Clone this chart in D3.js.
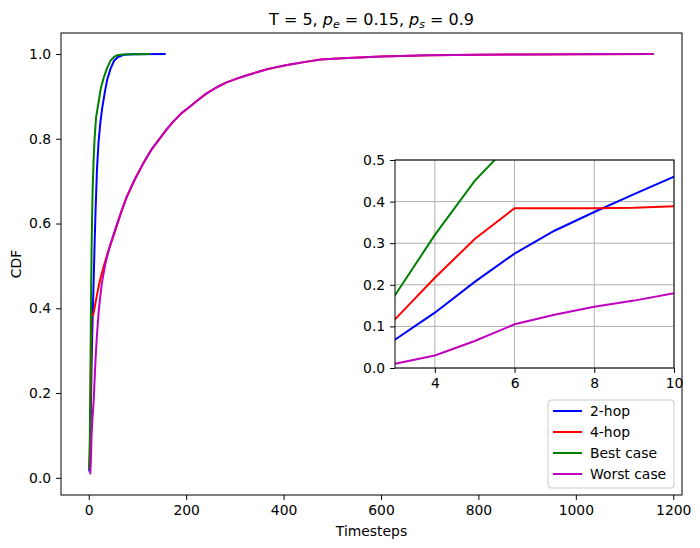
<!DOCTYPE html>
<html>
<head>
<meta charset="utf-8">
<script src="https://cdn.jsdelivr.net/npm/d3@7"></script>
<style>
  body { margin: 0; background: #fff; }
  text { font-family: "DejaVu Sans", sans-serif; fill: #000; }
</style>
</head>
<body>
<div id="chart"></div>
<script>
// series: [timestep, cdf]
const twoHop = [[1,0.015],[2,0.035],[3,0.068],[4,0.133],[5,0.207],[6,0.275],[7,0.330],[8,0.375],[9,0.418],[10,0.460],
  [12,0.55],[14,0.63],[17,0.73],[20,0.79],[24,0.84],[28,0.875],[33,0.91],[38,0.94],[45,0.966],[52,0.984],[60,0.993],[72,0.998],[90,0.9995],[158,1.0]]

const fourHop = [[1,0.02],[2,0.05],[3,0.117],[4,0.217],[5,0.310],[6,0.384],[7,0.384],[8,0.384],[9,0.385],[10,0.389],
  [15,0.42],[20,0.45],[25,0.475],[31,0.50],[40,0.535],[50,0.568],[58,0.596],[66,0.625],[78,0.663],[95,0.705],[112,0.742],[128,0.773],
  [146,0.801],[160,0.822],[174,0.841],[190,0.860],[208,0.876],[225,0.892],[242,0.907],[262,0.921],[283,0.933],[304,0.942],[325,0.950],
  [345,0.957],[366,0.964],[386,0.969],[407,0.974],[448,0.982],[476,0.987],[520,0.990],[600,0.994],[700,0.997],[800,0.998],[900,0.999],[1000,0.9995],[1160,1.0]]

const bestCase = [[1,0.02],[2,0.07],[3,0.175],[4,0.32],[5,0.45],[6,0.55],[7,0.62],[8,0.68],[10,0.75],[12,0.80],[15,0.85],
  [20,0.885],[25,0.92],[31,0.945],[38,0.968],[45,0.985],[52,0.993],[58,0.997],[70,0.999],[127,1.0]]

const worstCase = [[2,0.009],[3,0.010],[4,0.030],[5,0.065],[6,0.105],[7,0.128],[8,0.147],[9,0.162],[10,0.180],
  [12,0.23],[14,0.28],[17,0.34],[21,0.40],[27,0.46],[35,0.51],[45,0.553],[56,0.592],[66,0.625],[78,0.663],[95,0.705],[112,0.742],[128,0.773],
  [146,0.801],[160,0.822],[174,0.841],[190,0.860],[208,0.876],[225,0.892],[242,0.907],[262,0.921],[283,0.933],[304,0.942],[325,0.950],
  [345,0.957],[366,0.964],[386,0.969],[407,0.974],[448,0.982],[476,0.987],[520,0.990],[600,0.994],[700,0.997],[800,0.998],[900,0.999],[1000,0.9995],[1160,1.0]]

const seriesNames = ['2-hop', '4-hop', 'Best case', 'Worst case']
const seriesColors = ['#0000ff', '#ff0000', '#008000', '#bf00bf']
const seriesData = [twoHop, fourHop, bestCase, worstCase]

const xTicks = [0, 200, 400, 600, 800, 1000, 1200]
const yTicks = [0.0, 0.2, 0.4, 0.6, 0.8, 1.0]
const insetXTicks = [4, 6, 8, 10]
const insetYTicks = [0.0, 0.1, 0.2, 0.3, 0.4, 0.5]

const width = 700, height = 548
const m = {left: 61, right: 682, top: 33, bottom: 495}
const fs = 13.9

const svg = d3.select('#chart').append('svg')
  .attr('width', width)
  .attr('height', height)

// matplotlib-style 5% margins
const allX = seriesData.flat().map(d => d[0])
const allY = seriesData.flat().map(d => d[1])
const xMin = d3.min(allX), xMax = d3.max(allX)
const yMin = d3.min(allY), yMax = d3.max(allY)
const xPad = (xMax - xMin) * 0.05, yPad = (yMax - yMin) * 0.05

const x = d3.scaleLinear().domain([xMin - xPad, xMax + xPad]).range([m.left, m.right])
const y = d3.scaleLinear().domain([yMin - yPad, yMax + yPad]).range([m.bottom, m.top])

const main = svg.append('g')

const line = d3.line().x(d => x(d[0])).y(d => y(d[1]))

seriesData.forEach((s, i) => {
  main.append('path')
    .datum(s)
    .attr('d', line)
    .attr('fill', 'none')
    .attr('stroke', seriesColors[i])
    .attr('stroke-width', 2)
    .attr('stroke-linejoin', 'round')
})

// axes
const xAxis = svg.append('g')
  .attr('transform', `translate(0,${m.bottom})`)
  .call(d3.axisBottom(x).tickValues(xTicks).tickSize(4.9).tickPadding(4.9).tickFormat(d3.format('d')))
const yAxis = svg.append('g')
  .attr('transform', `translate(${m.left},0)`)
  .call(d3.axisLeft(y).tickValues(yTicks).tickSize(4.9).tickPadding(4.9).tickFormat(d3.format('.1f')))

;[xAxis, yAxis].forEach(a => {
  a.select('.domain').remove()
  a.selectAll('text').attr('font-size', fs).attr('font-family', 'DejaVu Sans, sans-serif')
  a.selectAll('line').attr('stroke', '#000').attr('stroke-width', 1)
})

svg.append('text')
  .attr('x', (m.left + m.right) / 2)
  .attr('y', 536)
  .attr('text-anchor', 'middle')
  .attr('font-size', fs)
  .text('Timesteps')

svg.append('text')
  .attr('transform', `translate(21,${(m.top + m.bottom) / 2}) rotate(-90)`)
  .attr('text-anchor', 'middle')
  .attr('font-size', fs)
  .text('CDF')

// title
const title = svg.append('text')
  .attr('x', (m.left + m.right) / 2)
  .attr('y', 25)
  .attr('text-anchor', 'middle')
  .attr('font-size', 16)
title.append('tspan').text('T = 5, ')
title.append('tspan').attr('font-style', 'italic').text('p')
title.append('tspan').attr('font-style', 'italic').attr('font-size', 11).attr('dy', 3).text('e')
title.append('tspan').attr('dy', -3).text(' = 0.15, ')
title.append('tspan').attr('font-style', 'italic').text('p')
title.append('tspan').attr('font-style', 'italic').attr('font-size', 11).attr('dy', 3).text('s')
title.append('tspan').attr('dy', -3).text(' = 0.9')

// inset
const im = {left: 395, right: 674, top: 160, bottom: 368}
const ix = d3.scaleLinear().domain([3, 10]).range([im.left, im.right])
const iy = d3.scaleLinear().domain([0, 0.5]).range([im.bottom, im.top])

const inset = svg.append('g')
inset.append('rect')
  .attr('x', im.left).attr('y', im.top)
  .attr('width', im.right - im.left).attr('height', im.bottom - im.top)
  .attr('fill', '#fff')

svg.append('clipPath').attr('id', 'inset-clip')
  .append('rect')
  .attr('x', im.left).attr('y', im.top)
  .attr('width', im.right - im.left).attr('height', im.bottom - im.top)

inset.selectAll('.gx')
  .data(insetXTicks)
  .enter()
  .append('line')
  .attr('x1', d => ix(d)).attr('x2', d => ix(d))
  .attr('y1', im.top).attr('y2', im.bottom)
  .attr('stroke', '#b0b0b0').attr('stroke-width', 1)
inset.selectAll('.gy')
  .data(insetYTicks)
  .enter()
  .append('line')
  .attr('x1', im.left).attr('x2', im.right)
  .attr('y1', d => iy(d)).attr('y2', d => iy(d))
  .attr('stroke', '#b0b0b0').attr('stroke-width', 1)

const iline = d3.line().x(d => ix(d[0])).y(d => iy(d[1]))
const insetLines = inset.append('g').attr('clip-path', 'url(#inset-clip)')
seriesData.forEach((s, i) => {
  insetLines.append('path')
    .datum(s.filter(d => d[0] <= 12))
    .attr('d', iline)
    .attr('fill', 'none')
    .attr('stroke', seriesColors[i])
    .attr('stroke-width', 2)
})

inset.append('rect')
  .attr('x', im.left).attr('y', im.top)
  .attr('width', im.right - im.left).attr('height', im.bottom - im.top)
  .attr('fill', 'none').attr('stroke', '#000').attr('stroke-width', 1)

const ixAxis = inset.append('g')
  .attr('transform', `translate(0,${im.bottom})`)
  .call(d3.axisBottom(ix).tickValues(insetXTicks).tickSize(4.9).tickPadding(4.9).tickFormat(d3.format('d')))
const iyAxis = inset.append('g')
  .attr('transform', `translate(${im.left},0)`)
  .call(d3.axisLeft(iy).tickValues(insetYTicks).tickSize(4.9).tickPadding(4.9).tickFormat(d3.format('.1f')))
;[ixAxis, iyAxis].forEach(a => {
  a.select('.domain').remove()
  a.selectAll('text').attr('font-size', fs).attr('font-family', 'DejaVu Sans, sans-serif')
  a.selectAll('line').attr('stroke', '#000').attr('stroke-width', 1)
})

// legend
const lg = svg.append('g').attr('transform', 'translate(548,400)')
lg.append('rect')
  .attr('width', 126).attr('height', 88)
  .attr('rx', 3)
  .attr('fill', '#fff').attr('fill-opacity', 0.8)
  .attr('stroke', '#cccccc').attr('stroke-width', 1)
seriesNames.forEach((n, i) => {
  const row = lg.append('g').attr('transform', `translate(0,${11 + i * 21})`)
  row.append('line')
    .attr('x1', 5).attr('x2', 34)
    .attr('stroke', seriesColors[i]).attr('stroke-width', 2)
  row.append('text')
    .attr('x', 42).attr('y', 5)
    .attr('font-size', fs)
    .text(n)
})

// main frame on top
svg.append('rect')
  .attr('x', m.left).attr('y', m.top)
  .attr('width', m.right - m.left).attr('height', m.bottom - m.top)
  .attr('fill', 'none').attr('stroke', '#000').attr('stroke-width', 1)
</script>
</body>
</html>
